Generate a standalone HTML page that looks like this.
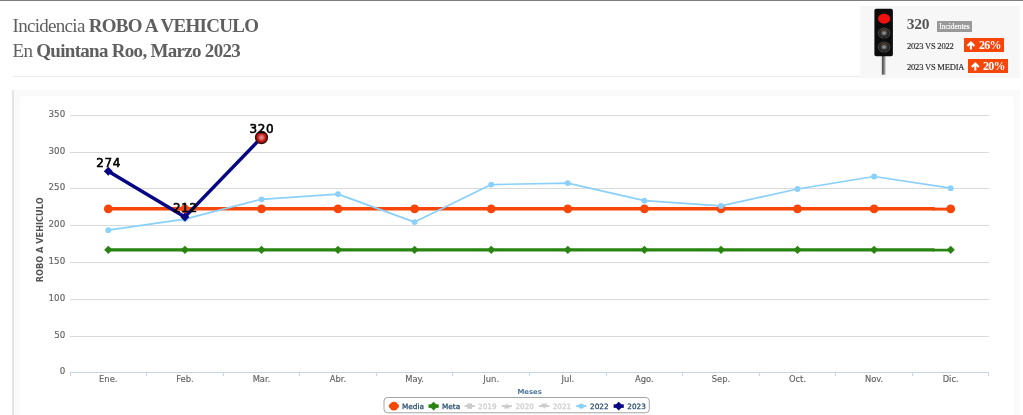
<!DOCTYPE html>
<html lang="es"><head><meta charset="utf-8"><title>Incidencia ROBO A VEHICULO</title>
<style>
html,body{margin:0;padding:0;background:#fff;}
body{width:1023px;height:415px;position:relative;overflow:hidden;font-family:"Liberation Serif",serif;color:#555;}
.topbar{position:absolute;left:0;top:0;width:1023px;height:1px;background:#7f7f7f;}
h1{position:absolute;left:12.5px;top:13px;margin:0;font-size:19px;line-height:25px;font-weight:normal;color:#5f5f5f;letter-spacing:-0.7px;white-space:nowrap;}
.hr{position:absolute;left:13px;top:76px;width:859px;height:1px;background:#ebebeb;}
.widget{position:absolute;left:860px;top:6px;width:160px;height:72px;background:#f7f7f7;}
.panel{position:absolute;left:12px;top:90px;width:1008px;height:325px;background:#fafafa;border-left:2px solid #e5e5e5;box-sizing:border-box;}
.chartbg{position:absolute;left:20px;top:96px;width:994px;height:330px;background:#fff;border-radius:3px;}
.w-num{position:absolute;left:906.8px;top:14.6px;font-size:15.5px;font-weight:bold;line-height:18px;color:#555;letter-spacing:-0.3px;}
.w-badge{position:absolute;left:937px;top:21px;width:35px;height:11px;line-height:11.5px;text-align:center;background:#999;color:#fff;font-size:7.4px;white-space:nowrap;-webkit-text-stroke:0.2px #fff;}
.w-l{position:absolute;left:907px;font-size:8.5px;line-height:10px;color:#2b2b2b;white-space:nowrap;letter-spacing:-0.2px;-webkit-text-stroke:0.15px #2b2b2b;}
.w-o{position:absolute;height:14px;line-height:14px;background:#f74608;color:#fff;font-weight:bold;font-size:12px;white-space:nowrap;box-sizing:border-box;padding-left:14.9px;letter-spacing:-0.65px;width:39.5px;}
#wrap{position:absolute;left:0;top:0;width:1023px;height:415px;overflow:hidden;will-change:transform;}
</style></head><body><div id="wrap">
<div class="topbar"></div>
<h1>Incidencia <b>ROBO A VEHICULO</b><br>En <b>Quintana Roo, Marzo 2023</b></h1>
<div class="hr"></div>
<div class="widget"></div>
<div class="w-num">320</div>
<div class="w-badge">Incidentes</div>
<div class="w-l" style="top:40.9px">2023 VS 2022</div>
<div class="w-l" style="top:62.3px">2023 VS MEDIA</div>
<div class="w-o" style="left:964px;top:38px;">26%</div>
<div class="w-o" style="left:968px;top:59px;">20%</div>
<svg width="1023" height="415" viewBox="0 0 1023 415" style="position:absolute;left:0;top:0">
<defs>
<radialGradient id="lg" cx="0.5" cy="0.5" r="0.5"><stop offset="0" stop-color="#a2a2a2"/><stop offset="0.28" stop-color="#6c6c6c"/><stop offset="0.52" stop-color="#303030"/><stop offset="0.8" stop-color="#1e1e1e"/><stop offset="0.9" stop-color="#484848"/><stop offset="1" stop-color="#3c3c3c"/></radialGradient>
<linearGradient id="pole" x1="0" x2="1" y1="0" y2="0"><stop offset="0" stop-color="#505050"/><stop offset="0.45" stop-color="#6e6e6e"/><stop offset="1" stop-color="#d2d2d2"/></linearGradient>
</defs>
<rect x="881.8" y="55" width="4" height="19.7" fill="url(#pole)"/>
<rect x="874.4" y="8.7" width="18.5" height="47.5" rx="1.8" fill="#0c0c0c"/>
<ellipse cx="884.1" cy="18.8" rx="6.05" ry="5" fill="#f01010"/>
<ellipse cx="884.1" cy="33.1" rx="6.3" ry="5.5" fill="url(#lg)"/>
<path d="M 880.9 30.6 Q 884.1 28.6 887.3 30.6" stroke="#6e4424" stroke-width="0.9" fill="none"/>
<ellipse cx="884.1" cy="47.05" rx="6.3" ry="5.5" fill="url(#lg)"/>
<path d="M 880.9 44.55 Q 884.1 42.55 887.3 44.55" stroke="#6e4424" stroke-width="0.9" fill="none"/>
<path d="M 970.9 49.6 L 970.9 42.8 M 967.4 46 L 970.9 42.5 L 974.4 46" stroke="#fff" stroke-width="2.1" fill="none"/>
<path d="M 975.3 70.6 L 975.3 63.8 M 971.8 67 L 975.3 63.5 L 978.8 67" stroke="#fff" stroke-width="2.1" fill="none"/>
</svg>
<div class="panel"></div>
<div class="chartbg"></div>
<svg width="1023" height="415" viewBox="0 0 1023 415" style="position:absolute;left:0;top:0" font-family="'DejaVu Sans', 'Liberation Sans', sans-serif">
<defs><radialGradient id="rg" cx="0.5" cy="0.5" r="0.5"><stop offset="0" stop-color="#e49292"/><stop offset="0.33" stop-color="#d66868"/><stop offset="0.64" stop-color="#c01a1a"/><stop offset="1" stop-color="#ac0c0c"/></radialGradient></defs>
<path d="M 70.0 372.5 L 989.0 372.5" stroke="#c6d4e3" stroke-width="1" fill="none"/>
<text x="65.2" y="374.4" text-anchor="end" font-size="8.7" fill="#636363" stroke="#636363" stroke-width="0.15">0</text>
<path d="M 70.0 336.5 L 989.0 336.5" stroke="#DADADA" stroke-width="1" fill="none"/>
<text x="65.2" y="338.4" text-anchor="end" font-size="8.7" fill="#636363" stroke="#636363" stroke-width="0.15">50</text>
<path d="M 70.0 299.5 L 989.0 299.5" stroke="#DADADA" stroke-width="1" fill="none"/>
<text x="65.2" y="301.4" text-anchor="end" font-size="8.7" fill="#636363" stroke="#636363" stroke-width="0.15">100</text>
<path d="M 70.0 262.5 L 989.0 262.5" stroke="#DADADA" stroke-width="1" fill="none"/>
<text x="65.2" y="264.4" text-anchor="end" font-size="8.7" fill="#636363" stroke="#636363" stroke-width="0.15">150</text>
<path d="M 70.0 225.5 L 989.0 225.5" stroke="#DADADA" stroke-width="1" fill="none"/>
<text x="65.2" y="227.4" text-anchor="end" font-size="8.7" fill="#636363" stroke="#636363" stroke-width="0.15">200</text>
<path d="M 70.0 188.5 L 989.0 188.5" stroke="#DADADA" stroke-width="1" fill="none"/>
<text x="65.2" y="190.4" text-anchor="end" font-size="8.7" fill="#636363" stroke="#636363" stroke-width="0.15">250</text>
<path d="M 70.0 152.5 L 989.0 152.5" stroke="#DADADA" stroke-width="1" fill="none"/>
<text x="65.2" y="154.4" text-anchor="end" font-size="8.7" fill="#636363" stroke="#636363" stroke-width="0.15">300</text>
<path d="M 70.0 115.5 L 989.0 115.5" stroke="#DADADA" stroke-width="1" fill="none"/>
<text x="65.2" y="117.4" text-anchor="end" font-size="8.7" fill="#636363" stroke="#636363" stroke-width="0.15">350</text>
<path d="M 70.5 372.5 L 70.5 376.0" stroke="#c6d4e3" stroke-width="1" fill="none"/>
<path d="M 146.5 372.5 L 146.5 376.0" stroke="#c6d4e3" stroke-width="1" fill="none"/>
<path d="M 223.5 372.5 L 223.5 376.0" stroke="#c6d4e3" stroke-width="1" fill="none"/>
<path d="M 299.5 372.5 L 299.5 376.0" stroke="#c6d4e3" stroke-width="1" fill="none"/>
<path d="M 376.5 372.5 L 376.5 376.0" stroke="#c6d4e3" stroke-width="1" fill="none"/>
<path d="M 452.5 372.5 L 452.5 376.0" stroke="#c6d4e3" stroke-width="1" fill="none"/>
<path d="M 529.5 372.5 L 529.5 376.0" stroke="#c6d4e3" stroke-width="1" fill="none"/>
<path d="M 606.5 372.5 L 606.5 376.0" stroke="#c6d4e3" stroke-width="1" fill="none"/>
<path d="M 682.5 372.5 L 682.5 376.0" stroke="#c6d4e3" stroke-width="1" fill="none"/>
<path d="M 759.5 372.5 L 759.5 376.0" stroke="#c6d4e3" stroke-width="1" fill="none"/>
<path d="M 835.5 372.5 L 835.5 376.0" stroke="#c6d4e3" stroke-width="1" fill="none"/>
<path d="M 912.5 372.5 L 912.5 376.0" stroke="#c6d4e3" stroke-width="1" fill="none"/>
<path d="M 988.5 372.5 L 988.5 376.0" stroke="#c6d4e3" stroke-width="1" fill="none"/>
<text x="108.3" y="381.7" text-anchor="middle" font-size="8.4" fill="#636363" stroke="#636363" stroke-width="0.15">Ene.</text>
<text x="184.9" y="381.7" text-anchor="middle" font-size="8.4" fill="#636363" stroke="#636363" stroke-width="0.15">Feb.</text>
<text x="261.5" y="381.7" text-anchor="middle" font-size="8.4" fill="#636363" stroke="#636363" stroke-width="0.15">Mar.</text>
<text x="338.0" y="381.7" text-anchor="middle" font-size="8.4" fill="#636363" stroke="#636363" stroke-width="0.15">Abr.</text>
<text x="414.6" y="381.7" text-anchor="middle" font-size="8.4" fill="#636363" stroke="#636363" stroke-width="0.15">May.</text>
<text x="491.2" y="381.7" text-anchor="middle" font-size="8.4" fill="#636363" stroke="#636363" stroke-width="0.15">Jun.</text>
<text x="567.8" y="381.7" text-anchor="middle" font-size="8.4" fill="#636363" stroke="#636363" stroke-width="0.15">Jul.</text>
<text x="644.4" y="381.7" text-anchor="middle" font-size="8.4" fill="#636363" stroke="#636363" stroke-width="0.15">Ago.</text>
<text x="721.0" y="381.7" text-anchor="middle" font-size="8.4" fill="#636363" stroke="#636363" stroke-width="0.15">Sep.</text>
<text x="797.5" y="381.7" text-anchor="middle" font-size="8.4" fill="#636363" stroke="#636363" stroke-width="0.15">Oct.</text>
<text x="874.1" y="381.7" text-anchor="middle" font-size="8.4" fill="#636363" stroke="#636363" stroke-width="0.15">Nov.</text>
<text x="950.7" y="381.7" text-anchor="middle" font-size="8.4" fill="#636363" stroke="#636363" stroke-width="0.15">Dic.</text>
<text x="0" y="0" transform="translate(43 239.8) rotate(-90)" text-anchor="middle" font-size="8.2" font-weight="bold" fill="#555555">ROBO A VEHICULO</text>
<text x="529.7" y="393.8" text-anchor="middle" font-size="6.9" font-weight="bold" fill="#4d759e">Meses</text>
<path d="M 108.3 208.8 L 933.7 208.8" stroke="#f74608" stroke-width="3.4" stroke-linecap="round" fill="none"/>
<path d="M 932.7 209.1 L 950.7 209.1" stroke="#f74608" stroke-width="2.9" fill="none"/>
<circle cx="108.3" cy="208.8" r="4.4" fill="#f74608"/>
<circle cx="184.9" cy="208.8" r="4.4" fill="#f74608"/>
<circle cx="261.5" cy="208.8" r="4.4" fill="#f74608"/>
<circle cx="338.0" cy="208.8" r="4.4" fill="#f74608"/>
<circle cx="414.6" cy="208.8" r="4.4" fill="#f74608"/>
<circle cx="491.2" cy="208.8" r="4.4" fill="#f74608"/>
<circle cx="567.8" cy="208.8" r="4.4" fill="#f74608"/>
<circle cx="644.4" cy="208.8" r="4.4" fill="#f74608"/>
<circle cx="721.0" cy="208.8" r="4.4" fill="#f74608"/>
<circle cx="797.5" cy="208.8" r="4.4" fill="#f74608"/>
<circle cx="874.1" cy="208.8" r="4.4" fill="#f74608"/>
<circle cx="950.7" cy="208.8" r="4.4" fill="#f74608"/>
<path d="M 108.3 249.8 L 933.7 249.8" stroke="#298411" stroke-width="3.3" stroke-linecap="round" fill="none"/>
<path d="M 932.7 250.1 L 950.7 250.1" stroke="#298411" stroke-width="2.7" fill="none"/>
<path d="M 108.3 245.7 L 112.4 249.8 L 108.3 253.9 L 104.2 249.8 Z" fill="#298411"/>
<path d="M 184.9 245.7 L 189.0 249.8 L 184.9 253.9 L 180.8 249.8 Z" fill="#298411"/>
<path d="M 261.5 245.7 L 265.6 249.8 L 261.5 253.9 L 257.4 249.8 Z" fill="#298411"/>
<path d="M 338.0 245.7 L 342.1 249.8 L 338.0 253.9 L 333.9 249.8 Z" fill="#298411"/>
<path d="M 414.6 245.7 L 418.7 249.8 L 414.6 253.9 L 410.5 249.8 Z" fill="#298411"/>
<path d="M 491.2 245.7 L 495.3 249.8 L 491.2 253.9 L 487.1 249.8 Z" fill="#298411"/>
<path d="M 567.8 245.7 L 571.9 249.8 L 567.8 253.9 L 563.7 249.8 Z" fill="#298411"/>
<path d="M 644.4 245.7 L 648.5 249.8 L 644.4 253.9 L 640.3 249.8 Z" fill="#298411"/>
<path d="M 721.0 245.7 L 725.1 249.8 L 721.0 253.9 L 716.9 249.8 Z" fill="#298411"/>
<path d="M 797.5 245.7 L 801.6 249.8 L 797.5 253.9 L 793.4 249.8 Z" fill="#298411"/>
<path d="M 874.1 245.7 L 878.2 249.8 L 874.1 253.9 L 870.0 249.8 Z" fill="#298411"/>
<path d="M 950.7 245.7 L 954.8 249.8 L 950.7 253.9 L 946.6 249.8 Z" fill="#298411"/>
<polyline points="108.3,230.2 184.9,219.1 261.5,199.3 338.0,194.1 414.6,222.1 491.2,184.6 567.8,183.1 644.4,200.7 721.0,205.9 797.5,189.0 874.1,176.5 950.7,188.2" fill="none" stroke="#8ad0fa" stroke-width="1.7" stroke-linejoin="round" stroke-linecap="round"/>
<circle cx="108.3" cy="230.2" r="2.9" fill="#8ad0fa"/>
<circle cx="184.9" cy="219.1" r="2.9" fill="#8ad0fa"/>
<circle cx="261.5" cy="199.3" r="2.9" fill="#8ad0fa"/>
<circle cx="338.0" cy="194.1" r="2.9" fill="#8ad0fa"/>
<circle cx="414.6" cy="222.1" r="2.9" fill="#8ad0fa"/>
<circle cx="491.2" cy="184.6" r="2.9" fill="#8ad0fa"/>
<circle cx="567.8" cy="183.1" r="2.9" fill="#8ad0fa"/>
<circle cx="644.4" cy="200.7" r="2.9" fill="#8ad0fa"/>
<circle cx="721.0" cy="205.9" r="2.9" fill="#8ad0fa"/>
<circle cx="797.5" cy="189.0" r="2.9" fill="#8ad0fa"/>
<circle cx="874.1" cy="176.5" r="2.9" fill="#8ad0fa"/>
<circle cx="950.7" cy="188.2" r="2.9" fill="#8ad0fa"/>
<polyline points="108.3,171.3 184.9,216.9 261.5,137.5" fill="none" stroke="#060684" stroke-width="3.5" stroke-linejoin="round" stroke-linecap="round"/>
<path d="M 108.3 166.8 L 112.8 171.3 L 108.3 175.8 L 103.8 171.3 Z" fill="#060684"/>
<path d="M 184.9 212.4 L 189.4 216.9 L 184.9 221.4 L 180.4 216.9 Z" fill="#060684"/>
<circle cx="261.5" cy="137.5" r="5.9" fill="url(#rg)" stroke="#3d0d0d" stroke-width="1.5"/>
<text x="108.7" y="166.6" text-anchor="middle" font-size="12" letter-spacing="0.6" fill="#000" stroke="#000" stroke-width="0.6" stroke-linejoin="round">274</text>
<text x="185.3" y="211.7" text-anchor="middle" font-size="12" letter-spacing="0.6" fill="#000" stroke="#000" stroke-width="0.6" stroke-linejoin="round">212</text>
<text x="261.9" y="132.5" text-anchor="middle" font-size="12" letter-spacing="0.6" fill="#000" stroke="#000" stroke-width="0.6" stroke-linejoin="round">320</text>
<rect x="384" y="397.5" width="265.3" height="15.3" rx="3.5" ry="3.5" fill="#fff" stroke="#a4a4a4" stroke-width="1"/>
<path d="M 391.1 406.1 L 396.7 406.1" stroke="#f74608" stroke-width="4.6" stroke-linecap="round" fill="none"/><circle cx="393.90000000000003" cy="406.1" r="4.3" fill="#f74608"/><text x="402.0" y="408.8" font-size="7.3" fill="#274b6d" stroke="#274b6d" stroke-width="0.25">Media</text>
<path d="M 428.5 406.1 L 438.7 406.1" stroke="#298411" stroke-width="3.5" fill="none"/><path d="M 433.6 401.70000000000005 L 438.0 406.1 L 433.6 410.5 L 429.20000000000005 406.1 Z" fill="#298411"/><text x="442.0" y="408.8" font-size="7.3" fill="#274b6d" stroke="#274b6d" stroke-width="0.25">Meta</text>
<path d="M 464.5 406.1 L 474.7 406.1" stroke="#CCC" stroke-width="2.0" fill="none"/><rect x="467.20000000000005" y="403.40000000000003" width="4.8" height="5.4" fill="#CCC"/><text x="478.0" y="408.8" font-size="7.3" fill="#CCC" stroke="#CCC" stroke-width="0.25">2019</text>
<path d="M 501.7 406.1 L 511.9 406.1" stroke="#CCC" stroke-width="2.0" fill="none"/><path d="M 506.8 403.1 L 509.8 408.6 L 503.8 408.6 Z" fill="#CCC"/><text x="515.4" y="408.8" font-size="7.3" fill="#CCC" stroke="#CCC" stroke-width="0.25">2020</text>
<path d="M 539.1 406.1 L 549.3000000000001 406.1" stroke="#CCC" stroke-width="2.0" fill="none"/><path d="M 544.2 409.1 L 547.2 403.6 L 541.2 403.6 Z" fill="#CCC"/><text x="552.7" y="408.8" font-size="7.3" fill="#CCC" stroke="#CCC" stroke-width="0.25">2021</text>
<path d="M 576.2 406.1 L 586.4000000000001 406.1" stroke="#8ad0fa" stroke-width="2.0" fill="none"/><circle cx="581.3000000000001" cy="406.1" r="2.7" fill="#8ad0fa"/><text x="590.0" y="408.8" font-size="7.3" fill="#274b6d" stroke="#274b6d" stroke-width="0.25">2022</text>
<path d="M 613.6 406.1 L 623.8000000000001 406.1" stroke="#060684" stroke-width="3.5" fill="none"/><path d="M 618.7 401.70000000000005 L 623.1 406.1 L 618.7 410.5 L 614.3000000000001 406.1 Z" fill="#060684"/><text x="627.3" y="408.8" font-size="7.3" fill="#274b6d" stroke="#274b6d" stroke-width="0.25">2023</text>
</svg>
</div></body></html>
